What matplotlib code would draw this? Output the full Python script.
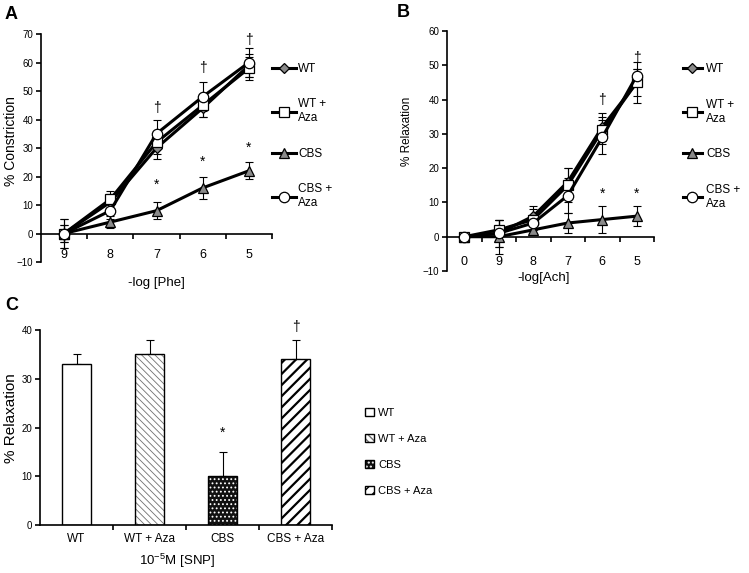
import numpy as np
import matplotlib
matplotlib.use('Agg')
import matplotlib.pyplot as plt
from matplotlib.legend_handler import HandlerTuple

plt.rcParams['font.family'] = ['Liberation Sans', 'DejaVu Sans']
plt.rcParams['mathtext.fontset'] = 'custom'
plt.rcParams['mathtext.rm'] = 'Liberation Sans'

# legend names
names = ['WT', 'WT +\nAza', 'CBS', 'CBS +\nAza']
bar_names = ['WT', 'WT + Aza', 'CBS', 'CBS + Aza']

# panel A: constriction to phenylephrine
phe_labels = ['9', '8', '7', '6', '5']
phe_wt = [0, 11, 30, 44, 59]
phe_wt_err = [5, 3, 4, 3, 4]
phe_wtaza = [0, 12, 32, 45, 58]
phe_wtaza_err = [3, 3, 4, 4, 4]
phe_cbs = [0, 4, 8, 16, 22]
phe_cbs_err = [3, 2, 3, 4, 3]
phe_cbsaza = [0, 8, 35, 48, 60]
phe_cbsaza_err = [5, 3, 5, 5, 5]
phe_dagger = {2: 44, 3: 58, 4: 68}
phe_star = {2: 17, 3: 25, 4: 30}

# panel B: relaxation to acetylcholine
ach_labels = ['0', '9', '8', '7', '6', '5']
ach_wt = [0, 1, 6, 16, 32, 45]
ach_wt_err = [0, 4, 3, 4, 4, 4]
ach_wtaza = [0, 2, 5, 15, 31, 45]
ach_wtaza_err = [0, 3, 3, 5, 4, 6]
ach_cbs = [0, 0, 2, 4, 5, 6]
ach_cbs_err = [0, 5, 1, 3, 4, 3]
ach_cbsaza = [0, 1, 4, 12, 29, 47]
ach_cbsaza_err = [0, 4, 2, 5, 5, 2]
ach_dagger = {4: 40, 5: 52}
ach_star = {4: 12.5, 5: 12.5}

# panel C: relaxation to SNP
snp_vals = [33, 35, 10, 34]
snp_err = [2, 3, 5, 4]
snp_dagger = {3: 40.6}
snp_star = {2: 19}

styles = [dict(marker='D', mfc='#8a8a8a', ms=5.5),
          dict(marker='s', mfc='white', ms=6.5),
          dict(marker='^', mfc='#8a8a8a', ms=7),
          dict(marker='o', mfc='white', ms=7.5)]

fig = plt.figure(figsize=(7.49, 5.73), dpi=100)
W, H = 749, 573


def add_ax(l, r, t, b):
    return fig.add_axes([l / W, 1 - b / H, (r - l) / W, (b - t) / H])


def style_axes(ax, ncat, labels, pad, lab_fs=8.5):
    for s in ['top', 'right']:
        ax.spines[s].set_visible(False)
    for s in ['left', 'bottom']:
        ax.spines[s].set_linewidth(1.2)
    ax.set_xlim(-0.5, ncat - 0.5)
    ax.set_xticks(np.arange(ncat) + 0.5)
    ax.set_xticklabels([])
    ax.set_xticks(np.arange(ncat), minor=True)
    ax.set_xticklabels(labels, minor=True, fontsize=lab_fs)
    ax.tick_params(axis='x', which='major', direction='out', length=3.5, width=1.2)
    ax.tick_params(axis='x', which='minor', length=0, pad=pad)
    ax.tick_params(axis='y', direction='out', length=3.5, width=1.2, labelsize=7, pad=2)


def line_panel(ax, labels, series, errs, ylim, yticks, pad, dag, star):
    n = len(labels)
    x = np.arange(n)
    for y, e, st, nm in zip(series, errs, styles, names):
        ax.errorbar(x, y, yerr=e, fmt='none', ecolor='black', elinewidth=0.8,
                    capsize=3, capthick=0.8, zorder=2)
        ax.plot(x, y, color='black', lw=2.2, mec='black', mew=0.9,
                label=nm, zorder=3, **st)
    ax.spines['bottom'].set_position(('data', 0))
    ax.set_ylim(*ylim)
    ax.set_yticks(yticks)
    style_axes(ax, n, labels, pad, lab_fs=9)
    for i, v in dag.items():
        ax.text(i, v, '\u2020', ha='center', va='center', fontsize=10)
    for i, v in star.items():
        ax.text(i, v, '*', ha='center', va='center', fontsize=10)


# ---- A ----
axA = add_ax(41, 272, 34, 262)
line_panel(axA, phe_labels, [phe_wt, phe_wtaza, phe_cbs, phe_cbsaza],
           [phe_wt_err, phe_wtaza_err, phe_cbs_err, phe_cbsaza_err],
           (-10, 70), range(-10, 71, 10), 11, phe_dagger, phe_star)
axA.set_ylabel('% Constriction', fontsize=10)
axA.yaxis.set_label_coords(-0.1, 0.53)
axA.set_xlabel('-log [Phe]', fontsize=9.5)
axA.xaxis.set_label_coords(0.5, -0.065)
axA.legend(loc='upper left', bbox_to_anchor=(0.975, 0.9), frameon=False,
           fontsize=8.5, handlelength=2.0, handletextpad=0.2, labelspacing=2.0,
           borderpad=0)

# ---- B ----
axB = add_ax(447, 654, 31, 271)
line_panel(axB, ach_labels, [ach_wt, ach_wtaza, ach_cbs, ach_cbsaza],
           [ach_wt_err, ach_wtaza_err, ach_cbs_err, ach_cbsaza_err],
           (-10, 60), range(-10, 61, 10), 14, ach_dagger, ach_star)
axB.set_ylabel('% Relaxation', fontsize=8.5)
axB.yaxis.set_label_coords(-0.165, 0.58)
axB.set_xlabel('-log[Ach]', fontsize=9.5)
axB.xaxis.set_label_coords(0.465, -0.005)
axB.legend(loc='upper left', bbox_to_anchor=(1.11, 0.89), frameon=False,
           fontsize=8.5, handlelength=1.6, handletextpad=0.4, labelspacing=2.0,
           borderpad=0)

# ---- C ----
axC = add_ax(40, 332, 330, 525)
xc = np.arange(len(snp_vals))
bw = 0.41
fills = [dict(color='white', ec='white', hatch=None, hlw=1.0),
         dict(color='white', ec='#707070', hatch='\\\\\\\\\\', hlw=0.6),
         dict(color='#111111', ec='white', hatch='....', hlw=0.8),
         dict(color='white', ec='black', hatch='///', hlw=1.6)]
handles = []
for i, (v, f) in enumerate(zip(snp_vals, fills)):
    with plt.rc_context({'hatch.linewidth': f['hlw']}):
        b1 = axC.bar(xc[i], v, bw, color=f['color'], edgecolor=f['ec'],
                     hatch=f['hatch'], linewidth=0, zorder=2)[0]
    if hasattr(b1, 'set_hatch_linewidth'):
        b1.set_hatch_linewidth(f['hlw'])
    b2 = axC.bar(xc[i], v, bw, fill=False, edgecolor='black', linewidth=1.0,
                 zorder=3)[0]
    handles.append((b1, b2))
axC.errorbar(xc, snp_vals, yerr=[np.zeros(len(snp_err)), snp_err], fmt='none',
             ecolor='black', elinewidth=0.8, capsize=3, capthick=0.8, zorder=1)
axC.set_ylim(0, 40)
axC.set_yticks(range(0, 41, 10))
style_axes(axC, len(snp_vals), bar_names, 6, lab_fs=8.5)
for i, v in snp_dagger.items():
    axC.text(i, v, '\u2020', ha='center', va='center', fontsize=10)
for i, v in snp_star.items():
    axC.text(i, v, '*', ha='center', va='center', fontsize=10)
axC.set_ylabel('% Relaxation', fontsize=11)
axC.yaxis.set_label_coords(-0.075, 0.55)
axC.set_xlabel(r'10$^{\mathregular{-5}}$M [SNP]', fontsize=9.5)
axC.xaxis.set_label_coords(0.47, -0.135)
axC.legend(handles, bar_names, handler_map={tuple: HandlerTuple(ndivide=1)},
           loc='upper left', bbox_to_anchor=(1.095, 0.63), frameon=False,
           fontsize=8, handlelength=0.75, handleheight=0.75, handletextpad=0.4,
           labelspacing=1.45, borderpad=0)

# panel letters
fig.text(5 / W, 1 - 6 / H, 'A', fontsize=13, fontweight='bold', va='top')
fig.text(397 / W, 1 - 4 / H, 'B', fontsize=13, fontweight='bold', va='top')
fig.text(5 / W, 1 - 297 / H, 'C', fontsize=13, fontweight='bold', va='top')

fig.savefig('out.png', dpi=100)
